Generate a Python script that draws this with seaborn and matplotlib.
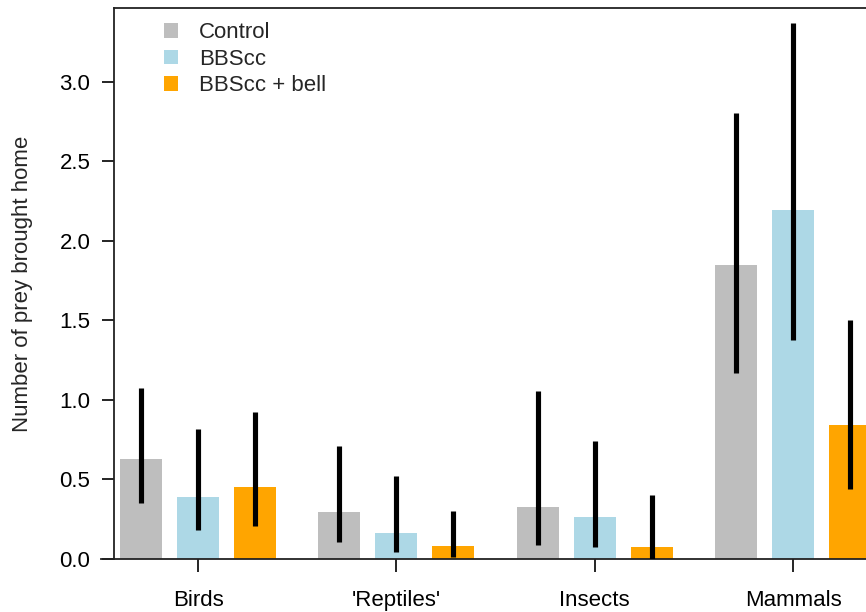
import matplotlib
matplotlib.use("Agg")
import matplotlib.pyplot as plt
import seaborn as sns
import pandas as pd
from matplotlib.patches import Patch

categories = ["Birds", "'Reptiles'", "Insects", "Mammals"]
treatments = ["Control", "BBScc", "BBScc + bell"]
colors = ["#BEBEBE", "#ADD8E6", "#FFA500"]

control_mean = [0.63, 0.295, 0.327, 1.85]
control_lo = [0.35, 0.105, 0.086, 1.168]
control_hi = [1.074, 0.709, 1.059, 2.803]

bbscc_mean = [0.388, 0.166, 0.266, 2.195]
bbscc_lo = [0.18, 0.044, 0.075, 1.377]
bbscc_hi = [0.816, 0.522, 0.740, 3.37]

bell_mean = [0.453, 0.08, 0.073, 0.843]
bell_lo = [0.208, 0.01, 0.0, 0.438]
bell_hi = [0.926, 0.30, 0.404, 1.503]

means = [control_mean, bbscc_mean, bell_mean]
lows = [control_lo, bbscc_lo, bell_lo]
highs = [control_hi, bbscc_hi, bell_hi]

rows = []
for t, m in zip(treatments, means):
    for c, v in zip(categories, m):
        rows.append({"category": c, "treatment": t, "value": v})
df = pd.DataFrame(rows)

sns.set_style("ticks")
plt.rcParams["font.family"] = ["Liberation Sans", "DejaVu Sans"]

fig = plt.figure(figsize=(8.66, 6.12), dpi=100)
ax = fig.add_axes([114 / 866, 1 - 559 / 612, (912 - 114) / 866, 551 / 612])

sns.barplot(data=df, x="category", y="value", hue="treatment",
            order=categories, hue_order=treatments, palette=colors,
            width=0.862, gap=0.263, errorbar=None, ax=ax,
            edgecolor="none", linewidth=0, legend=False, saturation=1)

for cont, lo, hi in zip(ax.containers, lows, highs):
    for bar, l, h in zip(cont, lo, hi):
        xc = bar.get_x() + bar.get_width() / 2
        ax.vlines(xc, l, h, color="black", linewidth=3.7, capstyle="butt", zorder=3)

ax.set_xlim(-0.4236, 3.6)
ax.set_ylim(0, 3.465)
ax.set_yticks([0, 0.5, 1.0, 1.5, 2.0, 2.5, 3.0])
ax.set_yticklabels(["0.0", "0.5", "1.0", "1.5", "2.0", "2.5", "3.0"])

for s in ["left", "top", "right", "bottom"]:
    ax.spines[s].set_linewidth(1.3)
    ax.spines[s].set_color("#222222")
ax.spines["right"].set_visible(True)
ax.spines["top"].set_visible(True)
ax.spines["bottom"].set_bounds(-0.489, 3.6)

ax.tick_params(axis="both", labelsize=16, length=9, width=1.2, colors="black")
ax.tick_params(axis="x", pad=13)
ax.tick_params(axis="y", pad=8)
ax.set_xlabel("")
ax.set_ylabel("Number of prey brought home", fontsize=16)
ax.yaxis.set_label_coords(-0.101, 0.5)

handles = [Patch(facecolor=c, edgecolor="none") for c in colors]
ax.legend(handles, treatments, loc="upper left", bbox_to_anchor=(0.051, 0.99),
          frameon=False, fontsize=16, handlelength=0.63, handleheight=0.63,
          handletextpad=0.95, labelspacing=0.24, borderaxespad=0)

fig.savefig("out.png", dpi=100)
